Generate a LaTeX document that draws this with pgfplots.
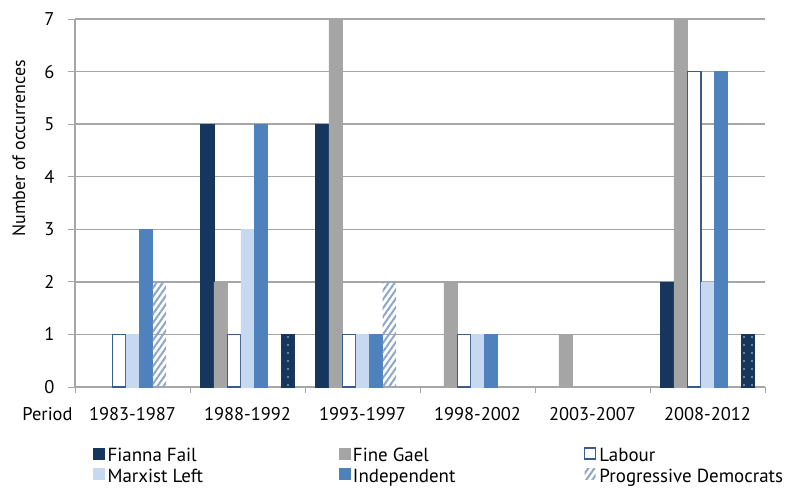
\documentclass[border=0pt]{standalone}
\usepackage{pgfplots}
\pgfplotsset{compat=1.18}
\usepackage{fontspec}
\setmainfont{PT Sans}
\usetikzlibrary{patterns.meta}
\definecolor{ff}{HTML}{17365D}
\definecolor{fg}{HTML}{A5A5A5}
\definecolor{lab}{HTML}{385D8A}
\definecolor{ml}{HTML}{C6D9F1}
\definecolor{ind}{HTML}{4F81BD}
\definecolor{pd}{HTML}{8EA6C6}
\definecolor{gridc}{HTML}{A6A6A6}
\begin{document}
\begin{tikzpicture}[font=\fontsize{19}{23}\selectfont]
\begin{axis}[
  scale only axis,
  width=690bp, height=368bp,
  ybar=0pt, bar width=0.117,
  xmin=-0.5, xmax=5.5, ymin=0, ymax=7,
  xtick={0,...,5},
  xticklabels={1983-1987,1988-1992,1993-1997,1998-2002,2003-2007,2008-2012},
  minor xtick={-0.5,0.5,...,5.5},
  major x tick style={draw=none},
  minor x tick style={draw=gridc, line width=1pt},
  minor tick length=6bp,
  xtick align=outside,
  ytick={0,...,7},
  ytick align=outside,
  major y tick style={draw=gridc, line width=1pt},
  major tick length=7bp,
  yticklabel style={font=\fontsize{18.5}{22}\selectfont, xshift=-10bp},
  xticklabel style={font=\fontsize{18.5}{22}\selectfont, anchor=base, yshift=-26bp},
  ymajorgrids,
  grid style={draw=gridc, line width=1.3pt},
  axis x line*=bottom, axis y line*=left,
  axis line style={draw=gridc, line width=1.3pt, -},
  /pgf/number format/assume math mode=true,
  legend columns=3,
  legend style={at={(rel axis cs:0,0)}, anchor=north west, xshift=18bp, yshift=-58bp,
    draw=none, fill=none, inner sep=0pt, row sep=2bp,
    nodes={inner xsep=3bp, inner ysep=0.5bp},
    font=\fontsize{19}{23}\selectfont},
  legend cell align=left,
  legend image code/.code={\path[#1] (0bp,-4.6bp) rectangle (11bp,6.4bp);},
]
\coordinate (sw) at (rel axis cs:0,0);
\coordinate (ne) at (rel axis cs:1,1);
\addplot[fill=ff, draw=ff] coordinates {(1,5) (2,5) (5,2)};
\addlegendentry{\makebox[228bp][l]{\strut Fianna Fail}}
\addplot[fill=fg, draw=fg] coordinates {(1,2) (2,7) (3,2) (4,1) (5,7)};
\addlegendentry{\makebox[228bp][l]{\strut Fine Gael}}
\addplot[fill=white, draw=lab, line width=1.5bp] coordinates {(0,1) (1,1) (2,1) (3,1) (5,6)};
\addlegendentry{\strut Labour}
\addplot[fill=ml, draw=ml] coordinates {(0,1) (1,3) (2,1) (3,1) (5,2)};
\addlegendentry{\makebox[228bp][l]{\strut Marxist Left}}
\addplot[fill=ind, draw=ind] coordinates {(0,3) (1,5) (2,1) (3,1) (5,6)};
\addlegendentry{\makebox[228bp][l]{\strut Independent}}
\addplot[draw=none, fill=white, pattern={Lines[angle=55, distance=5bp, line width=2bp]}, pattern color=pd] coordinates {(0,2) (2,2)};
\addlegendentry{\strut Progressive Democrats}
\addplot[fill=ff, draw=ff, postaction={pattern={Dots[distance=8bp, radius=0.8bp]}, pattern color=white!75!ff}] coordinates {(1,1) (5,1)};
\end{axis}
\node[anchor=base east, font=\fontsize{18.5}{22}\selectfont] at ([xshift=1bp,yshift=-33bp]sw) {Period};
\node[rotate=90, anchor=base west, font=\fontsize{18}{22}\selectfont] at ([xshift=-50bp,yshift=147bp]sw) {Number of occurrences};
\pgfresetboundingbox
\useasboundingbox ([xshift=-75bp,yshift=-102bp]sw) rectangle ([xshift=27bp,yshift=19bp]ne);
\end{tikzpicture}
\end{document}
